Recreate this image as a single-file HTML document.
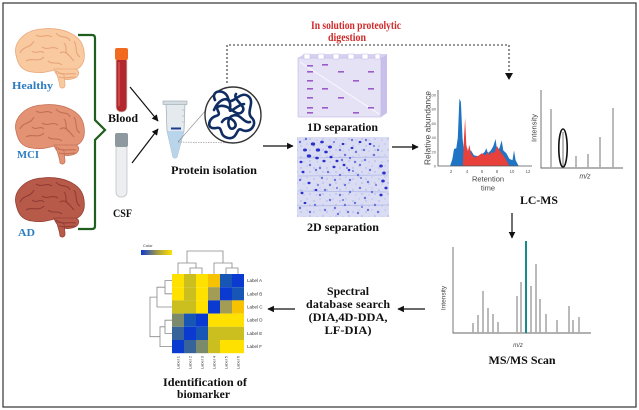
<!DOCTYPE html>
<html><head><meta charset="utf-8">
<style>
html,body{margin:0;padding:0;background:#fff;}
svg{display:block;}
.t{font-family:"Liberation Serif",serif;font-weight:bold;fill:#111;}
.s{font-family:"Liberation Sans",sans-serif;}
</style></head>
<body>
<svg width="639" height="410" viewBox="0 0 639 410" xmlns="http://www.w3.org/2000/svg">
<defs>
<marker id="ah" viewBox="0 0 10 10" refX="9" refY="5" markerWidth="5.5" markerHeight="5.5" orient="auto"><path d="M0,0 L10,5 L0,10 z" fill="#111"/></marker>
<linearGradient id="cb" x1="0" x2="1" y1="0" y2="0"><stop offset="0" stop-color="#0a3ad0"/><stop offset="0.55" stop-color="#a8a040"/><stop offset="1" stop-color="#ffe100"/></linearGradient>
<pattern id="speck" width="13" height="11" patternUnits="userSpaceOnUse">
<circle cx="2" cy="3" r="0.7" fill="#7c84dc"/><circle cx="8" cy="1" r="0.6" fill="#8a90e0"/><circle cx="11" cy="7" r="0.7" fill="#7c84dc"/><circle cx="5" cy="8" r="0.6" fill="#9298e2"/>
</pattern>
<g id="brain">
<path d="M4,28 C1,16 12,3 30,2 C48,0 70,6 72,24 C74,36 68,43 60,43 C54,43 50,42 46,42 C38,44 30,47 20,45 C10,44 6,38 4,28 Z"/>
<path d="M42,42 C44,50 52,54 60,52 C68,50 68,44 64,42 Z"/>
<path d="M44,44 C46,52 48,56 48,60 C50,62 53,61 53,58 L52,48 Z"/>
</g>
<path id="gyri" d="M8,26 C12,18 18,22 22,14 M24,8 C30,12 34,6 40,10 M44,6 C48,12 56,8 58,14 M62,14 C66,20 62,26 68,30 M14,34 C20,30 26,36 32,30 M30,20 C36,24 40,18 46,22 M48,26 C54,22 58,30 62,34 M36,34 C40,38 46,34 50,38 M20,24 C24,28 28,22 32,26 M52,16 C56,20 52,24 56,28 M46,46 C52,48 58,46 64,47 M47,50 C53,52 58,50 63,50"/>
</defs>

<rect x="3" y="3" width="633" height="404" fill="#fff" stroke="#333" stroke-width="1.2"/>

<!-- Brains -->
<g transform="translate(12,27)" fill="#f9c9a0" stroke="#eaa97c" stroke-width="0.8"><use href="#brain"/><use href="#gyri" fill="none" stroke="#e8a478" stroke-width="1.1"/></g>
<g transform="translate(12,103)" fill="#e39274" stroke="#c8745a" stroke-width="0.8"><use href="#brain"/><use href="#gyri" fill="none" stroke="#c26f55" stroke-width="1.1"/></g>
<g transform="translate(12,176)" fill="#b85a4a" stroke="#963f35" stroke-width="0.8"><use href="#brain"/><use href="#gyri" fill="none" stroke="#923c33" stroke-width="1.1"/></g>

<text class="t" x="12" y="86" dominant-baseline="central" font-size="11" style="fill:#2b7cc0" textLength="41" lengthAdjust="spacingAndGlyphs">Healthy</text>
<text class="t" x="17" y="155" dominant-baseline="central" font-size="11" style="fill:#2b7cc0" textLength="22" lengthAdjust="spacingAndGlyphs">MCI</text>
<text class="t" x="18" y="233" dominant-baseline="central" font-size="11" style="fill:#2b7cc0" textLength="17" lengthAdjust="spacingAndGlyphs">AD</text>

<!-- Brace -->
<path d="M78,35 L92,35 Q95,35 95,38 L95,120 L105,130 L95,140 L95,226 Q95,229 92,229 L78,229" fill="none" stroke="#1e5e1e" stroke-width="2.2"/>

<!-- Tubes -->
<rect x="116" y="56" width="11" height="56" rx="5" fill="#b3262b" stroke="#d6d6d6" stroke-width="0.8"/>
<rect x="118" y="62" width="2" height="44" fill="#c9474a"/>
<rect x="115" y="48" width="13" height="12" rx="2" fill="#f26a1f"/>
<text class="t" x="123" y="118" text-anchor="middle" dominant-baseline="central" font-size="12" textLength="30" lengthAdjust="spacingAndGlyphs">Blood</text>

<rect x="116" y="143" width="11" height="54" rx="5" fill="#eceef0" stroke="#bfc4c8" stroke-width="0.8"/>
<rect x="115" y="133" width="13" height="14" rx="2" fill="#8d999f"/>
<text class="t" x="122.5" y="213" text-anchor="middle" dominant-baseline="central" font-size="12" textLength="19" lengthAdjust="spacingAndGlyphs">CSF</text>

<line x1="130" y1="87" x2="158" y2="121" stroke="#111" stroke-width="1.2" marker-end="url(#ah)"/>
<line x1="132" y1="163" x2="158" y2="129" stroke="#111" stroke-width="1.2" marker-end="url(#ah)"/>

<!-- Eppendorf -->
<path d="M166,104 L185,104 L184,131 L177,157 Q175,159 173,157 L167,131 Z" fill="#e4eaee" stroke="#9fabb4" stroke-width="0.7"/>
<path d="M167,131 L184,131 L177,157 Q175,159 173,157 Z" fill="#b9d5ec"/>
<rect x="163" y="101" width="24" height="3.5" fill="#d4dce2" stroke="#9aa7b0" stroke-width="0.6"/>
<line x1="182" y1="110" x2="184" y2="110" stroke="#9aa7b0" stroke-width="0.5"/>
<line x1="182" y1="116" x2="184" y2="116" stroke="#9aa7b0" stroke-width="0.5"/>
<line x1="182" y1="122" x2="184" y2="122" stroke="#9aa7b0" stroke-width="0.5"/>
<rect x="171" y="127.5" width="10" height="2" fill="#1e3f8f"/>
<line x1="178" y1="142" x2="207" y2="109" stroke="#888" stroke-width="0.6"/>
<line x1="178" y1="142" x2="232" y2="143" stroke="#888" stroke-width="0.6" stroke-dasharray="1.5,1"/>

<!-- Circle with protein -->
<circle cx="233" cy="115" r="28" fill="#fff" stroke="#333" stroke-width="1.4"/>
<g fill="none" stroke="#0f2d63" stroke-width="2.6" stroke-linecap="round">
<path d="M215,100 C210,90 225,88 228,98 C230,108 240,90 248,96 C256,102 245,112 252,118 C258,124 250,134 242,130 C236,126 238,140 228,138 C218,136 224,126 216,128 C206,130 208,118 216,116 C224,114 212,108 220,106 C230,104 236,118 242,112 C248,106 232,100 236,94"/>
<path d="M222,122 C228,112 240,124 234,128 C228,132 226,118 232,116 C240,112 244,124 250,122 M214,110 C220,96 232,96 230,108 C228,116 238,104 244,104"/>
</g>
<text class="t" x="214" y="170" text-anchor="middle" dominant-baseline="central" font-size="12" textLength="86" lengthAdjust="spacingAndGlyphs">Protein isolation</text>

<!-- Dotted digestion path -->
<path d="M227,83 L227,45 L509,45 L509,74" fill="none" stroke="#333" stroke-width="1.1" stroke-dasharray="2,2"/>
<path d="M505,73 L513,73 L509,80 Z" fill="#111"/>
<text class="t" x="356" y="25" text-anchor="middle" dominant-baseline="central" font-size="12" style="fill:#d02a2a" textLength="90" lengthAdjust="spacingAndGlyphs">In solution proteolytic</text>
<text class="t" x="347" y="37" text-anchor="middle" dominant-baseline="central" font-size="12" style="fill:#d02a2a" textLength="38" lengthAdjust="spacingAndGlyphs">digestion</text>

<!-- 1D gel -->
<path d="M381,58 L387,54 L387,113 L381,117 Z" fill="#c8bfea"/>
<path d="M298,58 L304,54 L387,54 L381,58 Z" fill="#d8d2f2"/>
<rect x="298" y="58" width="83" height="59" fill="#e6e2f6" stroke="#c0b6e6" stroke-width="0.6"/>
<line x1="300" y1="62" x2="379" y2="114" stroke="#f6f4fc" stroke-width="1.2"/>
<g fill="#fff" stroke="#c0b6e6" stroke-width="0.5">
<rect x="304" y="54" width="6" height="5"/><rect x="318" y="54" width="6" height="5"/><rect x="333" y="54" width="6" height="5"/><rect x="348" y="54" width="6" height="5"/><rect x="362" y="54" width="6" height="5"/><rect x="375" y="54" width="5" height="5"/>
</g>
<g fill="#9a5cc8">
<rect x="307" y="65" width="6" height="1.6"/><rect x="307" y="71" width="6" height="1.6"/><rect x="307" y="80" width="6" height="1.6"/><rect x="307" y="88" width="6" height="1.6"/><rect x="307" y="97" width="6" height="1.6"/><rect x="307" y="107" width="6" height="1.6"/><rect x="307" y="112" width="6" height="1.6"/>
<rect x="322" y="64" width="6" height="1.6"/><rect x="322" y="88" width="6" height="1.6"/><rect x="322" y="107" width="6" height="1.6"/>
<rect x="338" y="71" width="6" height="1.6"/><rect x="338" y="97" width="6" height="1.6"/>
<rect x="353" y="80" width="6" height="1.6"/><rect x="353" y="112" width="6" height="1.6"/>
<rect x="368" y="71" width="6" height="1.6"/><rect x="368" y="88" width="6" height="1.6"/><rect x="368" y="107" width="6" height="1.6"/>
</g>
<text class="t" x="342.5" y="127" text-anchor="middle" dominant-baseline="central" font-size="12" textLength="71" lengthAdjust="spacingAndGlyphs">1D separation</text>

<line x1="263" y1="146" x2="293" y2="146" stroke="#111" stroke-width="1.2" marker-end="url(#ah)"/>

<!-- 2D gel -->
<rect x="297" y="137" width="92" height="80" fill="#d9dcf2"/>
<rect x="297" y="137" width="92" height="80" fill="url(#speck)" opacity="0.55"/>
<g stroke="#b4baea" stroke-width="0.8">
<line x1="298" y1="158" x2="388" y2="157"/><line x1="298" y1="176" x2="388" y2="175"/><line x1="298" y1="191" x2="388" y2="192"/><line x1="298" y1="206" x2="388" y2="205"/>
</g>
<g fill="#6a74dc">
<circle cx="340" cy="150" r="1.2"/><circle cx="345" cy="155" r="1.2"/><circle cx="350" cy="158" r="1.2"/><circle cx="355" cy="162" r="1.2"/><circle cx="360" cy="165" r="1.2"/><circle cx="365" cy="160" r="1.2"/><circle cx="370" cy="170" r="1.2"/><circle cx="358" cy="175" r="1.2"/><circle cx="350" cy="180" r="1.2"/><circle cx="345" cy="185" r="1.2"/><circle cx="340" cy="175" r="1.2"/><circle cx="335" cy="180" r="1.2"/><circle cx="330" cy="185" r="1.2"/><circle cx="325" cy="190" r="1.2"/><circle cx="320" cy="195" r="1.2"/><circle cx="330" cy="200" r="1.2"/><circle cx="340" cy="195" r="1.2"/><circle cx="350" cy="192" r="1.2"/><circle cx="360" cy="188" r="1.2"/><circle cx="368" cy="182" r="1.2"/><circle cx="372" cy="192" r="1.2"/><circle cx="365" cy="198" r="1.2"/><circle cx="355" cy="203" r="1.2"/><circle cx="345" cy="205" r="1.2"/><circle cx="335" cy="208" r="1.2"/><circle cx="325" cy="210" r="1.2"/><circle cx="315" cy="205" r="1.2"/><circle cx="310" cy="212" r="1.2"/><circle cx="300" cy="208" r="1.2"/><circle cx="375" cy="205" r="1.2"/><circle cx="378" cy="212" r="1.2"/><circle cx="368" cy="210" r="1.2"/><circle cx="358" cy="213" r="1.2"/><circle cx="348" cy="212" r="1.2"/><circle cx="338" cy="214" r="1.2"/><circle cx="328" cy="172" r="1.2"/><circle cx="322" cy="178" r="1.2"/><circle cx="316" cy="170" r="1.2"/><circle cx="310" cy="165" r="1.2"/><circle cx="300" cy="180" r="1.2"/><circle cx="342" cy="160" r="1.2"/><circle cx="356" cy="152" r="1.2"/><circle cx="364" cy="150" r="1.2"/><circle cx="374" cy="155" r="1.2"/><circle cx="378" cy="150" r="1.2"/><circle cx="366" cy="140" r="1.2"/><circle cx="352" cy="140" r="1.2"/><circle cx="300" cy="142" r="1.2"/><circle cx="306" cy="139" r="1.2"/><circle cx="320" cy="168" r="1.2"/>
<circle cx="347" cy="168" r="1"/><circle cx="353" cy="171" r="1"/><circle cx="361" cy="178" r="1"/><circle cx="337" cy="188" r="1"/><circle cx="343" cy="200" r="1"/><circle cx="318" cy="185" r="1"/><circle cx="362" cy="207" r="1"/><circle cx="376" cy="185" r="1"/><circle cx="374" cy="146" r="1"/><circle cx="334" cy="142" r="1"/>
</g>
<g fill="#2a30cc">
<ellipse cx="313" cy="144" rx="2.2" ry="1.6"/><ellipse cx="322" cy="142" rx="1.8" ry="1.4"/><ellipse cx="330" cy="147" rx="2" ry="1.5"/><ellipse cx="318" cy="150" rx="2.2" ry="1.6"/><ellipse cx="326" cy="152" rx="1.8" ry="1.4"/><ellipse cx="305" cy="150" rx="2" ry="1.5"/><ellipse cx="309" cy="156" rx="2.2" ry="1.6"/><ellipse cx="317" cy="158" rx="1.8" ry="1.4"/><ellipse cx="324" cy="161" rx="1.6" ry="1.3"/><ellipse cx="331" cy="157" rx="1.6" ry="1.3"/><ellipse cx="337" cy="161" rx="1.5" ry="1.2"/><ellipse cx="334" cy="167" rx="1.5" ry="1.2"/><ellipse cx="344" cy="165" rx="1.4" ry="1.2"/><ellipse cx="349" cy="170" rx="1.3" ry="1.1"/><ellipse cx="301" cy="162" rx="1.5" ry="1.2"/><ellipse cx="303" cy="172" rx="1.5" ry="1.2"/><ellipse cx="352" cy="148" rx="1.4" ry="1.1"/><ellipse cx="360" cy="142" rx="1.4" ry="1.1"/><ellipse cx="370" cy="144" rx="1.3" ry="1.1"/><ellipse cx="381" cy="166" rx="1.8" ry="1.5"/><ellipse cx="384" cy="173" rx="1.8" ry="1.5"/><ellipse cx="383" cy="181" rx="1.8" ry="1.5"/><ellipse cx="386" cy="188" rx="1.6" ry="1.4"/><ellipse cx="381" cy="195" rx="1.6" ry="1.4"/><ellipse cx="309" cy="183" rx="1.5" ry="1.2"/><ellipse cx="302" cy="193" rx="1.5" ry="1.2"/><ellipse cx="305" cy="203" rx="1.4" ry="1.1"/><ellipse cx="316" cy="190" rx="1.4" ry="1.1"/><ellipse cx="343" cy="144" rx="1.4" ry="1.1"/>
</g>
<text class="t" x="343" y="227" text-anchor="middle" dominant-baseline="central" font-size="12" textLength="72" lengthAdjust="spacingAndGlyphs">2D separation</text>

<line x1="392" y1="147" x2="418" y2="147" stroke="#111" stroke-width="1.2" marker-end="url(#ah)"/>

<!-- Chromatogram -->
<polygon fill="#1f74c4" points="450.1,166 452.4,158.9 454,149 456.3,148.3 457.8,137.6 459.4,98.6 460.9,102.1 462.5,137.6 464,151.8 465.5,150.4 467.1,148.3 468.6,153.2 470.9,150.4 474,155.4 477.9,156.1 481.7,154.6 484.8,151.8 486.3,148.3 487.9,153.2 490.9,150.4 493.3,146.1 495.6,139 497.1,150.4 499.4,148.3 501.7,140.4 503.3,150.4 506.3,153.2 509.4,158.9 512.5,160.3 514,150.4 515.6,160.3 518.7,166"/>
<polygon fill="#e8413c" points="462.8,166 464,137.6 465.1,117.7 466.3,144.7 467.8,151.8 469.4,144.7 470.9,153.2 474,157.5 477.9,156.1 481.7,153.2 485.6,155.4 487.9,151.8 489.4,155.4 491.7,151.8 494,153.2 497.1,146.1 499.4,150.4 503.3,155.4 506.3,160.3 509.4,166"/>
<polyline points="438,90 438,166 532,166" fill="none" stroke="#555" stroke-width="0.8"/>
<g class="s" font-size="4" fill="#555" text-anchor="end">
<text x="436" y="167.5">0</text><text x="436" y="153.3">20</text><text x="436" y="139.1">40</text><text x="436" y="124.9">60</text><text x="436" y="110.7">80</text><text x="436" y="96.5">100</text>
</g>
<g class="s" font-size="4.2" fill="#555" text-anchor="middle">
<text x="451" y="173">2</text><text x="467" y="173">4</text><text x="482" y="173">6</text><text x="497" y="173">8</text><text x="512" y="173">10</text><text x="528" y="173">12</text>
</g>
<text class="s" transform="translate(428,128) rotate(-90)" text-anchor="middle" dominant-baseline="central" font-size="8" fill="#444" textLength="74" lengthAdjust="spacingAndGlyphs">Relative abundance</text>
<text class="s" x="488" y="179" text-anchor="middle" dominant-baseline="central" font-size="7.5" fill="#444">Retention</text>
<text class="s" x="488" y="188" text-anchor="middle" dominant-baseline="central" font-size="7.5" fill="#444">time</text>

<!-- Spectrum -->
<polyline points="541,90 541,168 623,168" fill="none" stroke="#666" stroke-width="0.9"/>
<g stroke="#a8a8a8" stroke-width="1.6">
<line x1="551" y1="168" x2="551" y2="109"/><line x1="563" y1="168" x2="563" y2="132"/><line x1="576" y1="168" x2="576" y2="156"/><line x1="588" y1="168" x2="588" y2="154"/><line x1="600" y1="168" x2="600" y2="137"/><line x1="613" y1="168" x2="613" y2="108"/>
</g>
<ellipse cx="563" cy="148" rx="4.2" ry="19" fill="none" stroke="#111" stroke-width="1.6"/>
<text class="s" transform="translate(534,128) rotate(-90)" text-anchor="middle" dominant-baseline="central" font-size="7.5" fill="#444">Intensity</text>
<text class="s" x="585" y="177" text-anchor="middle" dominant-baseline="central" font-size="7" font-style="italic" fill="#444">m/z</text>
<text class="t" x="539" y="200" text-anchor="middle" dominant-baseline="central" font-size="12" textLength="38" lengthAdjust="spacingAndGlyphs">LC-MS</text>

<line x1="512" y1="213" x2="512" y2="238" stroke="#111" stroke-width="1.2" marker-end="url(#ah)"/>

<!-- MS/MS -->
<polyline points="453,247 453,333 591,333" fill="none" stroke="#666" stroke-width="0.9"/>
<g stroke="#a8a8a8" stroke-width="1.6">
<line x1="473" y1="333" x2="473" y2="323"/><line x1="478" y1="333" x2="478" y2="315"/><line x1="483" y1="333" x2="483" y2="291"/><line x1="488" y1="333" x2="488" y2="308"/><line x1="493" y1="333" x2="493" y2="314"/><line x1="498" y1="333" x2="498" y2="322"/>
<line x1="517" y1="333" x2="517" y2="296"/><line x1="521" y1="333" x2="521" y2="282"/><line x1="531" y1="333" x2="531" y2="286"/><line x1="536" y1="333" x2="536" y2="264"/><line x1="540" y1="333" x2="540" y2="299"/><line x1="546" y1="333" x2="546" y2="314"/><line x1="557" y1="333" x2="557" y2="320"/><line x1="569" y1="333" x2="569" y2="306"/><line x1="573" y1="333" x2="573" y2="320"/><line x1="579" y1="333" x2="579" y2="317"/>
</g>
<line x1="526" y1="333" x2="526" y2="241" stroke="#178a8a" stroke-width="2"/>
<text class="s" transform="translate(444,298) rotate(-90)" text-anchor="middle" dominant-baseline="central" font-size="6.5" fill="#444">Intensity</text>
<text class="s" x="518" y="346" text-anchor="middle" dominant-baseline="central" font-size="6" font-style="italic" fill="#444">m/z</text>
<text class="t" x="522" y="360" text-anchor="middle" dominant-baseline="central" font-size="12" textLength="67" lengthAdjust="spacingAndGlyphs">MS/MS Scan</text>

<line x1="425" y1="309" x2="398" y2="309" stroke="#111" stroke-width="1.2" marker-end="url(#ah)"/>

<text class="t" x="348" y="291" text-anchor="middle" dominant-baseline="central" font-size="12" textLength="42" lengthAdjust="spacingAndGlyphs">Spectral</text>
<text class="t" x="348" y="304" text-anchor="middle" dominant-baseline="central" font-size="12" textLength="84" lengthAdjust="spacing">database search</text>
<text class="t" x="348" y="317" text-anchor="middle" dominant-baseline="central" font-size="12" textLength="79" lengthAdjust="spacingAndGlyphs">(DIA,4D-DDA,</text>
<text class="t" x="348" y="330" text-anchor="middle" dominant-baseline="central" font-size="12" textLength="47" lengthAdjust="spacingAndGlyphs">LF-DIA)</text>

<line x1="295" y1="309" x2="268" y2="309" stroke="#111" stroke-width="1.2" marker-end="url(#ah)"/>

<!-- Heatmap -->
<rect x="141" y="250" width="31" height="5" fill="url(#cb)"/>
<text class="s" x="143" y="247" font-size="4" fill="#333">Color</text>
<g>
<rect x="172" y="274" width="12" height="13.2" fill="#ffe100"/><rect x="184" y="274" width="12" height="13.2" fill="#cbbf20"/><rect x="196" y="274" width="12" height="13.2" fill="#ffe100"/><rect x="208" y="274" width="12" height="13.2" fill="#f7c200"/><rect x="220" y="274" width="12" height="13.2" fill="#1756b5"/><rect x="232" y="274" width="12" height="13.2" fill="#0a3ad0"/>
<rect x="172" y="287.2" width="12" height="13.2" fill="#ffe100"/><rect x="184" y="287.2" width="12" height="13.2" fill="#cbbf20"/><rect x="196" y="287.2" width="12" height="13.2" fill="#ffe100"/><rect x="208" y="287.2" width="12" height="13.2" fill="#a39c55"/><rect x="220" y="287.2" width="12" height="13.2" fill="#0a3ad0"/><rect x="232" y="287.2" width="12" height="13.2" fill="#1756b5"/>
<rect x="172" y="300.4" width="12" height="13.2" fill="#cbbf20"/><rect x="184" y="300.4" width="12" height="13.2" fill="#cbbf20"/><rect x="196" y="300.4" width="12" height="13.2" fill="#ffe100"/><rect x="208" y="300.4" width="12" height="13.2" fill="#0a3ad0"/><rect x="220" y="300.4" width="12" height="13.2" fill="#a39c55"/><rect x="232" y="300.4" width="12" height="13.2" fill="#f7c200"/>
<rect x="172" y="313.6" width="12" height="13.2" fill="#7a8a6a"/><rect x="184" y="313.6" width="12" height="13.2" fill="#1756b5"/><rect x="196" y="313.6" width="12" height="13.2" fill="#0a3ad0"/><rect x="208" y="313.6" width="12" height="13.2" fill="#ffe100"/><rect x="220" y="313.6" width="12" height="13.2" fill="#ffe100"/><rect x="232" y="313.6" width="12" height="13.2" fill="#ffe100"/>
<rect x="172" y="326.8" width="12" height="13.2" fill="#35639a"/><rect x="184" y="326.8" width="12" height="13.2" fill="#0a3ad0"/><rect x="196" y="326.8" width="12" height="13.2" fill="#1756b5"/><rect x="208" y="326.8" width="12" height="13.2" fill="#cbbf20"/><rect x="220" y="326.8" width="12" height="13.2" fill="#cbbf20"/><rect x="232" y="326.8" width="12" height="13.2" fill="#cbbf20"/>
<rect x="172" y="340" width="12" height="13.2" fill="#0a3ad0"/><rect x="184" y="340" width="12" height="13.2" fill="#35639a"/><rect x="196" y="340" width="12" height="13.2" fill="#7a8a6a"/><rect x="208" y="340" width="12" height="13.2" fill="#cbbf20"/><rect x="220" y="340" width="12" height="13.2" fill="#ffe100"/><rect x="232" y="340" width="12" height="13.2" fill="#ffe100"/>
</g>
<g fill="none" stroke="#888" stroke-width="0.8">
<path d="M178,274 V263 H196 V268 M190,274 V268 H202 V274"/>
<path d="M214,274 V263 H232 V268 M226,274 V268 H238 V274"/>
<path d="M187,263 V251 H223 V263"/>
<path d="M172,280.6 H165 V293.8 H172 M165,287.2 H157 V307 H172"/>
<path d="M172,320.2 H165 V333.4 H172 M165,326.8 H160 V346.6 H172"/>
<path d="M157,297.1 H150 V336.7 H160"/>
</g>
<g class="s" font-size="4.5" fill="#333" dominant-baseline="central">
<text x="247" y="280.6">Label A</text><text x="247" y="293.8">Label B</text><text x="247" y="307">Label C</text><text x="247" y="320.2">Label D</text><text x="247" y="333.4">Label E</text><text x="247" y="346.6">Label F</text>
</g>
<g class="s" font-size="4" fill="#333" text-anchor="end">
<text transform="translate(179.5,356) rotate(-90)">Label 1</text><text transform="translate(191.5,356) rotate(-90)">Label 2</text><text transform="translate(203.5,356) rotate(-90)">Label 3</text><text transform="translate(215.5,356) rotate(-90)">Label 4</text><text transform="translate(227.5,356) rotate(-90)">Label 5</text><text transform="translate(239.5,356) rotate(-90)">Label 6</text>
</g>
<text class="t" x="205" y="382" text-anchor="middle" dominant-baseline="central" font-size="12" textLength="84" lengthAdjust="spacingAndGlyphs">Identification of</text>
<text class="t" x="203.5" y="394" text-anchor="middle" dominant-baseline="central" font-size="12" textLength="53" lengthAdjust="spacingAndGlyphs">biomarker</text>
</svg>
</body></html>
